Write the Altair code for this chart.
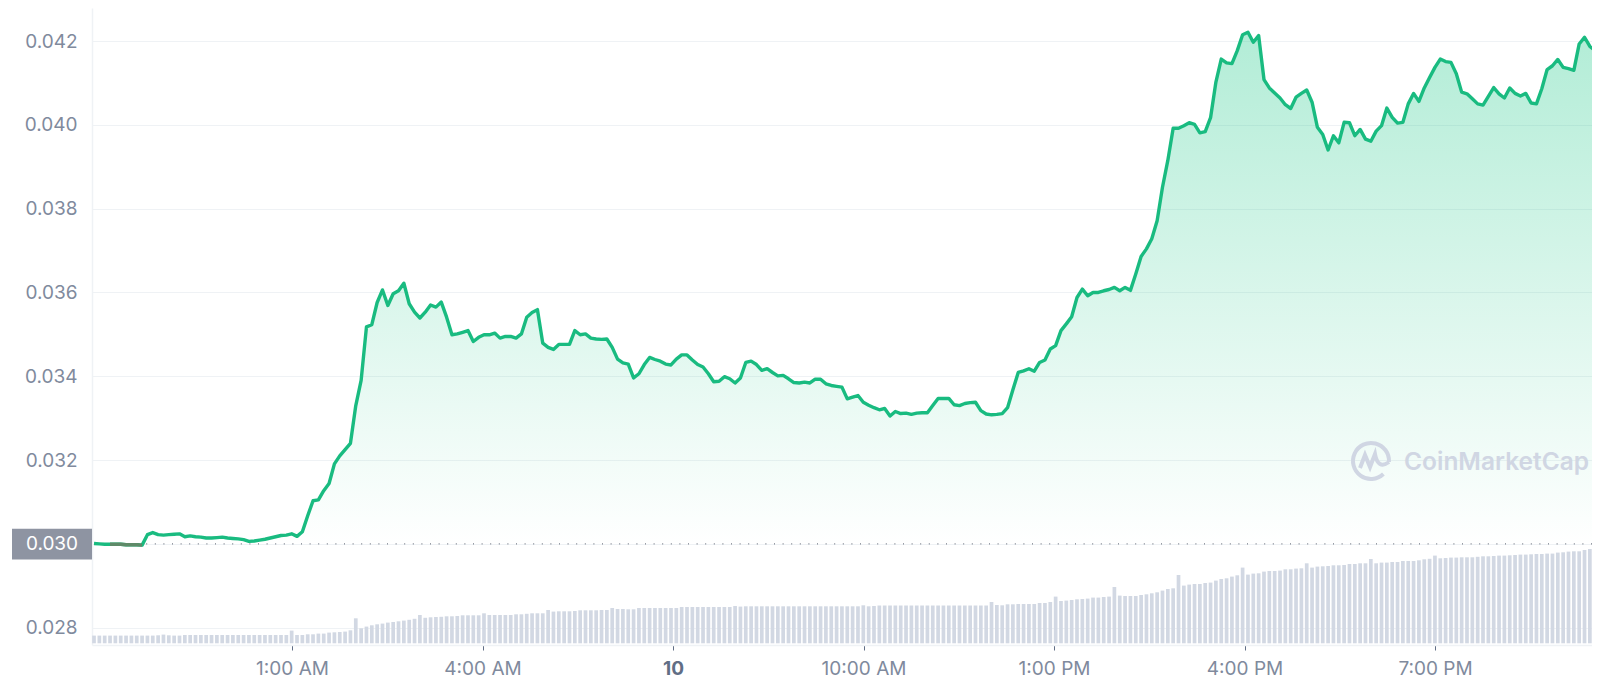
import altair as alt
import pandas as pd

# Price in units of 0.00001, one reading per 5-minute step
PRICE_E5 = [
3001,3000,2999,2999,2999,2999,2998,2998,2998,2997,
3022,3027,3022,3021,3022,3023,3024,3017,3019,3017,
3016,3014,3014,3015,3016,3014,3013,3012,3010,3006,
3007,3009,3011,3014,3017,3020,3021,3024,3018,3029,
3067,3103,3105,3127,3144,3191,3210,3225,3240,3330,
3390,3518,3523,3576,3606,3569,3597,3604,3622,3573,
3553,3539,3553,3570,3565,3577,3541,3499,3501,3505,
3509,3483,3493,3499,3499,3503,3491,3495,3495,3491,
3501,3541,3552,3559,3479,3469,3464,3476,3476,3476,
3509,3499,3501,3491,3489,3488,3489,3469,3441,3432,
3429,3396,3406,3428,3445,3440,3436,3429,3427,3441,
3451,3451,3439,3428,3422,3406,3387,3388,3399,3394,
3384,3396,3433,3436,3428,3414,3418,3409,3401,3402,
3394,3385,3384,3386,3384,3393,3393,3382,3378,3376,
3374,3346,3350,3354,3338,3331,3325,3320,3323,3305,
3316,3311,3312,3309,3312,3313,3313,3330,3347,3347,
3347,3332,3330,3335,3337,3338,3318,3310,3308,3309,
3311,3325,3368,3409,3413,3418,3412,3433,3439,3465,
3473,3509,3525,3542,3588,3608,3592,3600,3600,3604,
3607,3612,3604,3612,3605,3644,3686,3704,3728,3771,
3851,3915,3992,3992,3998,4005,4001,3981,3984,4017,
4102,4157,4148,4146,4177,4215,4221,4197,4213,4108,
4088,4076,4064,4048,4039,4066,4075,4083,4054,3994,
3977,3940,3974,3957,4006,4005,3974,3989,3966,3961,
3985,3998,4040,4018,4004,4006,4050,4075,4056,4088,
4113,4137,4157,4151,4149,4122,4078,4074,4062,4050,
4047,4068,4089,4074,4064,4088,4075,4069,4075,4052,
4050,4086,4132,4141,4156,4137,4134,4130,4193,4209,
4187,4177,
]

VOLUME = [
7.7,7.7,7.7,7.7,7.7,7.7,7.7,7.7,7.7,7.7,
7.7,7.7,8,8.7,8,7.7,7.7,8.3,8.3,8.3,
8.3,8.3,8.3,8.3,8.3,8.3,8.3,8.3,8.3,8.3,
8.3,8.3,8.3,8.3,8.3,8.3,8.3,12.7,8.3,8.3,
9,9,9.7,9.7,10.7,11,11.3,11.7,13,25,
15,16.7,18,19,19.7,20.7,21.3,22,22.7,23.5,
24.5,28.3,25.5,26,26.3,26.5,27,27,27.3,28,
28,28,28,30,28.3,28.3,28.3,28.3,28.3,29,
29,29.5,30,30,30,33.3,31.7,32,32,32,
32.3,33,33,33,33,33.3,33.3,35.3,34.3,34.3,
34,34,35.3,35.3,35.3,35.3,35.3,35.3,35.3,35.3,
36.3,36.3,36.3,36.3,36.3,36.3,36.3,36.3,36.3,36.3,
37.3,36.7,37,37,37,37,37,37,37,37,
37,37,37,37,37,37,37,37,37,37,
37,37,37,37,38,37,37.3,37.8,37.8,37.8,
37.8,37.8,37.8,37.8,37.8,37.8,37.8,37.8,37.8,37.8,
37.8,37.8,37.8,37.8,37.8,37.8,37.8,37.8,41.3,38.3,
38,39,39,39.3,39.3,39.3,39.3,40.3,40.3,41.3,
46.7,42.3,42.7,43.3,44,44.3,44.7,45.7,45.7,46.3,
46.7,56.3,47.7,47.3,47.3,47.3,48.3,49,50,51,
52.7,54.3,55,68.3,57.7,58.7,59.3,59.3,60.3,60.7,
62.7,64.3,65,66.7,68,75.7,68.7,69.7,70,71.7,
72.3,72.3,72.7,74,74,74.7,75,80,75.7,76.7,
77,77.3,78,78,78.3,79.3,79.3,80,80,84.3,
80,80.7,80.7,81.3,81.3,82.3,82.3,82.3,83,84,
84.5,87.7,85,85.3,85.7,85.7,86,86,86,86.5,
87,87,87.3,87.7,87.7,88,88.3,88.7,88.7,89,
89.3,89.3,89.7,89.7,90.7,91,91.7,92,92,93.3,
94.3,95,
]

X_TICKS = [1, 4, 7, 10, 13, 16, 19]
X_LABELS = ["1:00 AM", "4:00 AM", "10", "10:00 AM", "1:00 PM", "4:00 PM", "7:00 PM"]
Y_TICKS = [0.028, 0.030, 0.032, 0.034, 0.036, 0.038, 0.040, 0.042]

START_HOUR = -2.118
STEP_HOUR = 0.08413
BASE_PRICE = 0.030

GREY = "#808a9d"
GRID = "#eff2f5"
GREEN = "#19bb80"
FONT = "Inter"

n = min(len(PRICE_E5), len(VOLUME))
df = pd.DataFrame({
    "hour": [START_HOUR + STEP_HOUR * i for i in range(n)],
    "price": [v / 1e5 for v in PRICE_E5[:n]],
    "volume": VOLUME[:n],
})

x_scale = alt.Scale(domain=[-2.1496, 21.472], nice=False, zero=False, padding=0)
y_scale = alt.Scale(domain=[0.027587, 0.042788], nice=False, zero=False)
vol_scale = alt.Scale(domain=[-1.7, 635.3], nice=False, zero=False)

label_expr = "[" + ",".join(f"'{s}'" for s in X_LABELS) + "][indexof([" + ",".join(str(t) for t in X_TICKS) + "], datum.value)]"

x_axis = alt.Axis(
    values=X_TICKS, labelExpr=label_expr, title=None, grid=False,
    domainColor=GRID, domainWidth=1.5, tickColor="#616e85", tickSize=5, tickWidth=1,
    labelFont=FONT, labelFontSize=19, labelPadding=9, labelBaseline="top",
    labelColor={"condition": {"test": "datum.value == 7", "value": "#616e85"}, "value": GREY},
    labelFontWeight={"condition": {"test": "datum.value == 7", "value": 700}, "value": 400},
    labelOverlap=False, labelFlush=False,
)
y_axis = alt.Axis(
    values=Y_TICKS, title=None, grid=True, gridColor=GRID, gridWidth=1.2,
    domainColor=GRID, domainWidth=1.5, ticks=False,
    labelExpr="datum.value == 0.03 ? '' : format(datum.value, '.3f')",
    labelFont=FONT, labelFontSize=19, labelColor=GREY, labelPadding=15,
    labelOverlap=False, labelFlush=False,
)

base = alt.Chart(df)
X = alt.X("hour:Q", scale=x_scale, axis=x_axis)
Y_NOAX = alt.Y("price:Q", scale=y_scale, axis=None)

gradient = alt.Gradient(
    gradient="linear", x1=1, x2=1, y1=0, y2=1,
    stops=[
        alt.GradientStop(color="rgba(22,199,132,0.33)", offset=0),
        alt.GradientStop(color="rgba(22,199,132,0)", offset=1),
    ],
)

axes = base.mark_line(opacity=0).encode(x=X, y=alt.Y("price:Q", scale=y_scale, axis=y_axis))
area = base.mark_area(color=gradient, line=False).encode(
    x=X, y=Y_NOAX, y2=alt.Y2(datum=BASE_PRICE))
one = alt.Chart(pd.DataFrame({"p": [BASE_PRICE]}))
dotted = one.mark_rule(color="#767c88", strokeDash=[1, 7.6], strokeWidth=1.2).encode(
    y=alt.Y("p:Q", scale=y_scale, axis=None))
line = base.mark_line(color=GREEN, strokeWidth=3.4, strokeJoin="round").encode(x=X, y=Y_NOAX)
below = alt.Chart(df.iloc[3:10]).mark_line(color="#5f8a68", strokeWidth=3.4).encode(x=X, y=Y_NOAX)
bars = base.mark_bar(color="#d2d8e3", size=3.7, orient="vertical").encode(
    x=X, y=alt.Y("volume:Q", scale=vol_scale, axis=None, stack=None))

box_df = pd.DataFrame({"top": [0.03036], "bot": [0.02963], "label": ["0.030"]})
box = alt.Chart(box_df).mark_rect(color="#8e94a2").encode(
    x=alt.value(-80), x2=alt.value(0),
    y=alt.Y("top:Q", scale=y_scale, axis=None), y2="bot:Q")
box_text = alt.Chart(box_df).mark_text(
    color="white", font=FONT, fontSize=19, align="center", baseline="middle"
).encode(x=alt.value(-40), y=alt.Y("bot:Q", scale=y_scale, axis=None), text="label:N", yOffset=alt.value(-15))

LOGO = ("M0.62,0.65 A0.9,0.9 0 1 1 0.9,0.05 "
        "M-0.55,0.35 L-0.3,-0.3 L-0.05,0.3 L0.2,-0.35 Q0.35,0.45 0.9,0.05")
wm_df = pd.DataFrame({"label": ["CoinMarketCap"]})
wm_logo = alt.Chart(wm_df).mark_point(
    shape=LOGO, filled=False, color="#d0d6e3", strokeWidth=4, size=1600, opacity=1
).encode(x=alt.value(1279), y=alt.value(453))
wm_text = alt.Chart(wm_df).mark_text(
    color="#d0d6e3", font=FONT, fontSize=24.5, fontWeight=600, align="left", baseline="middle"
).encode(x=alt.value(1312), y=alt.value(455), text="label:N")

chart = alt.layer(
    axes, area, dotted, wm_logo, wm_text, line, below, bars, box, box_text
).resolve_scale(y="independent").properties(
    width=1500, height=637,
    autosize=alt.AutoSizeParams(type="none"),
    padding={"left": 84, "top": 0, "right": 0, "bottom": 34},
    background="white",
).configure_view(stroke=None)

chart.save("out.html", embed_options={"renderer": "svg", "actions": False})
